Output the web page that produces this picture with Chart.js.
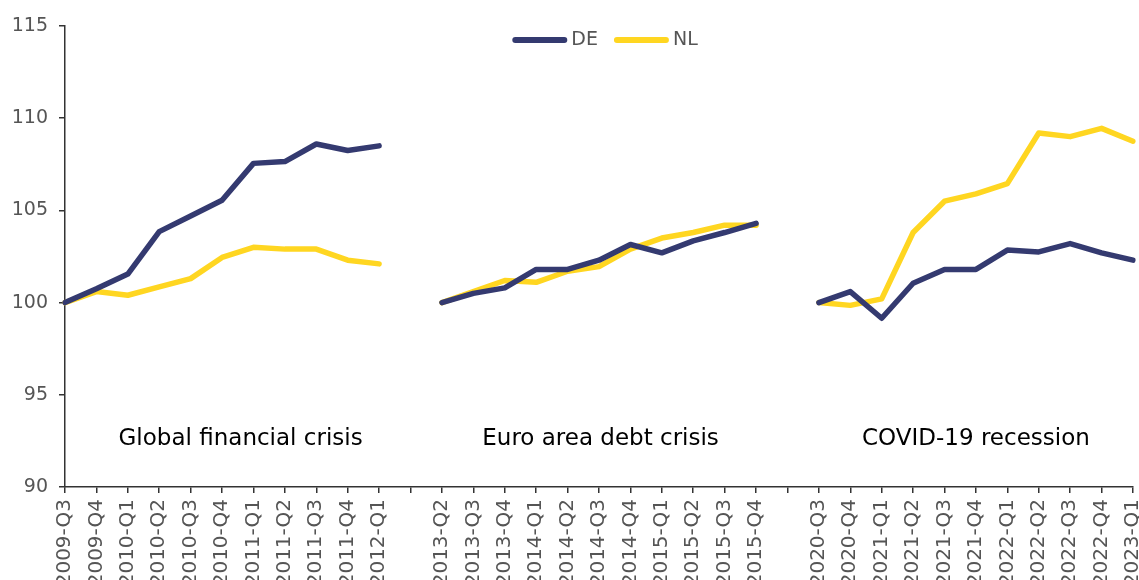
<!DOCTYPE html>
<html>
<head>
<meta charset="utf-8">
<script src="https://cdn.jsdelivr.net/npm/chart.js@4.4.1/dist/chart.umd.min.js"></script>
<style>
  html, body { margin: 0; padding: 0; background: #fff; }
  #wrap { width: 1139px; height: 580px; position: relative; }
</style>
</head>
<body>
<div id="wrap"><canvas id="c" width="1139" height="580"></canvas></div>
<script>
const categories = [
  '2009-Q3','2009-Q4','2010-Q1','2010-Q2','2010-Q3','2010-Q4','2011-Q1','2011-Q2','2011-Q3','2011-Q4','2012-Q1',
  '',
  '2013-Q2','2013-Q3','2013-Q4','2014-Q1','2014-Q2','2014-Q3','2014-Q4','2015-Q1','2015-Q2','2015-Q3','2015-Q4',
  '',
  '2020-Q3','2020-Q4','2021-Q1','2021-Q2','2021-Q3','2021-Q4','2022-Q1','2022-Q2','2022-Q3','2022-Q4','2023-Q1'
];
const deValues = [
  100, 100.75, 101.55, 103.85, 104.7, 105.55, 107.55, 107.65, 108.6, 108.25, 108.5,
  null,
  100, 100.5, 100.8, 101.8, 101.8, 102.3, 103.15, 102.7, 103.35, 103.8, 104.3,
  null,
  100, 100.6, 99.15, 101.05, 101.8, 101.8, 102.85, 102.75, 103.2, 102.7, 102.3
];
const nlValues = [
  100, 100.6, 100.4, 100.85, 101.3, 102.45, 103.0, 102.9, 102.9, 102.3, 102.1,
  null,
  100, 100.6, 101.2, 101.1, 101.7, 101.95, 102.9, 103.5, 103.8, 104.2, 104.2,
  null,
  100, 99.85, 100.2, 103.8, 105.5, 105.9, 106.45, 109.2, 109.0, 109.45, 108.75
];
const seriesNames = ['DE', 'NL'];
const periodNames = ['Global financial crisis', 'Euro area debt crisis', 'COVID-19 recession'];
const yTicks = [90, 95, 100, 105, 110, 115];

const DE_COLOR = '#343a70';
const NL_COLOR = '#ffd621';
const FONT = 'DejaVu Sans';

const periodLabels = {
  id: 'periodLabels',
  afterDatasetsDraw(chart) {
    const x = chart.scales.x, y = chart.scales.y;
    const ctx = chart.ctx;
    const pos = [5.59, 17.05, 29.0];
    ctx.save();
    ctx.font = '23px "' + FONT + '"';
    ctx.fillStyle = '#000';
    ctx.textAlign = 'center';
    ctx.textBaseline = 'middle';
    periodNames.forEach((t, i) => {
      ctx.fillText(t, x.getPixelForValue(pos[i]), y.getPixelForValue(92.6));
    });
    ctx.restore();
  }
};

// legend drawn inside the plot area, top centre
const insideLegend = {
  id: 'insideLegend',
  afterDatasetsDraw(chart) {
    const ctx = chart.ctx;
    const area = chart.chartArea;
    ctx.save();
    ctx.font = '19px "' + FONT + '"';
    ctx.textBaseline = 'middle';
    ctx.textAlign = 'left';
    const lineW = 55, gap = 4, itemGap = 16;
    const items = chart.data.datasets.map(d => ({ label: d.label, color: d.borderColor,
      w: lineW + gap + ctx.measureText(d.label).width }));
    const total = items.reduce((a, it) => a + it.w, 0) + itemGap * (items.length - 1);
    let x = (area.left + area.right) / 2 - total / 2 + 6;
    const y = area.top + 14;
    items.forEach(it => {
      ctx.strokeStyle = it.color;
      ctx.lineWidth = 6;
      ctx.lineCap = 'round';
      ctx.beginPath();
      ctx.moveTo(x + 3, y);
      ctx.lineTo(x + lineW - 3, y);
      ctx.stroke();
      ctx.fillStyle = '#555';
      ctx.fillText(it.label, x + lineW + gap, y);
      x += it.w + itemGap;
    });
    ctx.restore();
  }
};

new Chart(document.getElementById('c'), {
  type: 'line',
  data: {
    labels: categories,
    datasets: [
      { label: seriesNames[0], data: deValues, borderColor: DE_COLOR, backgroundColor: DE_COLOR,
        borderWidth: 5.5, pointRadius: 0, tension: 0, spanGaps: false,
        borderJoinStyle: 'round', borderCapStyle: 'round' },
      { label: seriesNames[1], data: nlValues, borderColor: NL_COLOR, backgroundColor: NL_COLOR,
        borderWidth: 5.5, pointRadius: 0, tension: 0, spanGaps: false,
        borderJoinStyle: 'round', borderCapStyle: 'round' }
    ]
  },
  options: {
    responsive: false,
    animation: false,
    devicePixelRatio: 1,
    layout: { padding: { top: 26, right: 6, left: 0, bottom: 0 } },
    plugins: {
      legend: { display: false },
      tooltip: { enabled: false }
    },
    scales: {
      x: {
        type: 'category',
        offset: false,
        grid: { drawOnChartArea: false, drawTicks: true, tickLength: 6, color: '#333', lineWidth: 1.5 },
        border: { display: true, color: '#333', width: 1.5 },
        ticks: { autoSkip: false, maxRotation: 90, minRotation: 90, color: '#555',
                 font: { family: FONT, size: 20 }, padding: 6 },
        afterFit(s) { s.height = 93; s.paddingLeft = 0; s.paddingRight = 0; }
      },
      y: {
        min: 90, max: 115,
        afterBuildTicks(s) { s.ticks = yTicks.map(v => ({ value: v })); },
        grid: { drawOnChartArea: false, drawTicks: true, tickLength: 6, color: '#333', lineWidth: 1.5 },
        border: { display: true, color: '#333', width: 1.5 },
        ticks: { color: '#555', font: { family: FONT, size: 19 }, padding: 11 },
        afterFit(s) { s.width = 65; s.paddingTop = 0; s.paddingBottom = 0; }
      }
    }
  },
  plugins: [periodLabels, insideLegend]
});
</script>
</body>
</html>
